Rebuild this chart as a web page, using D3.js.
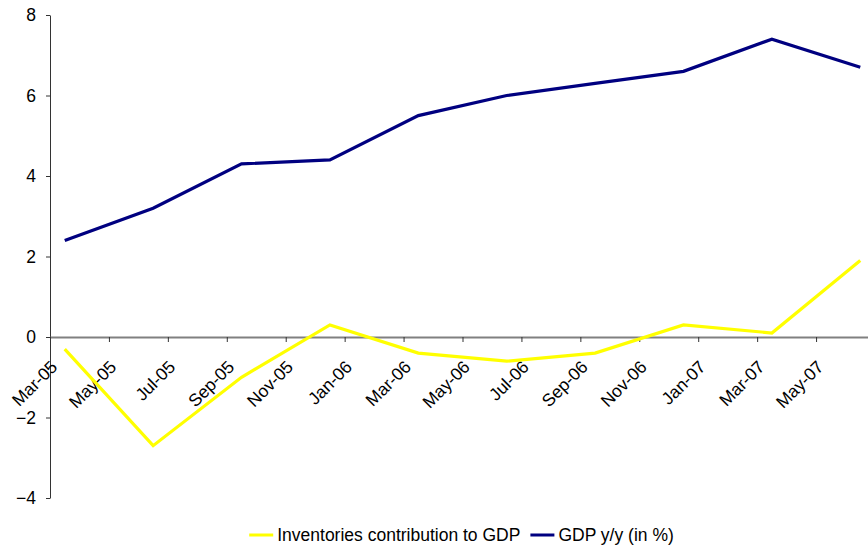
<!DOCTYPE html>
<html>
<head>
<meta charset="utf-8">
<script src="https://cdn.jsdelivr.net/npm/d3@7"></script>
<style>
  body { margin: 0; background: #fff; }
  text { font-family: "Liberation Sans", Arial, sans-serif; }
</style>
</head>
<body>
<div id="chart"></div>
<script>
// quarterly observations
const quarters = [`Mar-05`, `Jun-05`, `Sep-05`, `Dec-05`, `Mar-06`, `Jun-06`, `Sep-06`, `Dec-06`, `Mar-07`, `Jun-07`];
const inventories = [-0.3, -2.7, -1.0, 0.3, -0.4, -0.6, -0.4, 0.3, 0.1, 1.9];
const gdpYoY = [2.4, 3.2, 4.3, 4.4, 5.5, 6.0, 6.3, 6.6, 7.4, 6.7];
const xTickLabels = [`Mar-05`, `May-05`, `Jul-05`, `Sep-05`, `Nov-05`, `Jan-06`, `Mar-06`, `May-06`, `Jul-06`, `Sep-06`, `Nov-06`, `Jan-07`, `Mar-07`, `May-07`];
const yTicks = [-4, -2, 0, 2, 4, 6, 8];
const seriesNames = [`Inventories contribution to GDP`, `GDP y/y (in %)`];

const width = 868;
const height = 546;
const margin = { top: 15, right: -7, bottom: 48, left: 50 };
const fontSize = `17.5px`;

const parseMonth = d3.timeParse(`%b-%y`);
const base = parseMonth(`Mar-05`);
// months elapsed since the first month on the axis
const monthIndex = (s) => {
  const d = parseMonth(s);
  return (d.getFullYear() - base.getFullYear()) * 12 + d.getMonth() - base.getMonth();
};

const svg = d3.select(`#chart`)
  .append(`svg`)
  .attr(`width`, width)
  .attr(`height`, height);

const xScale = d3.scaleLinear()
  .domain([0, 28])
  .range([margin.left, width - margin.right]);
const yScale = d3.scaleLinear()
  .domain([-4, 8])
  .range([height - margin.bottom, margin.top]);

// y axis
const yAxis = svg.append(`g`)
  .attr(`transform`, `translate(${margin.left},0)`)
  .call(d3.axisLeft(yScale).tickValues(yTicks).tickSize(4).tickSizeOuter(0).tickPadding(10));
yAxis.select(`.domain`).attr(`stroke`, `#333`);
yAxis.selectAll(`.tick line`).attr(`stroke`, `#333`);
yAxis.selectAll(`text`)
  .style(`font-size`, fontSize)
  .attr(`fill`, `#000`);

// x axis through zero
const xAxis = svg.append(`g`)
  .attr(`transform`, `translate(0,${yScale(0)})`)
  .call(d3.axisBottom(xScale)
    .tickValues(xTickLabels.map(monthIndex))
    .tickFormat((d, i) => xTickLabels[i])
    .tickSize(5)
    .tickSizeOuter(0));
xAxis.select(`.domain`).attr(`stroke`, `#808080`).attr(`stroke-width`, 1.8);
xAxis.selectAll(`.tick line`).attr(`stroke`, `#333`);
xAxis.selectAll(`text`)
  .style(`font-size`, fontSize)
  .attr(`fill`, `#000`)
  .attr(`text-anchor`, `end`)
  .attr(`dy`, null)
  .attr(`y`, 0)
  .attr(`transform`, `translate(8,31) rotate(-45)`);

// lines
const series = [
  { name: seriesNames[0], values: inventories, color: `#FFFF00` },
  { name: seriesNames[1], values: gdpYoY, color: `#000080` },
];
const line = d3.line()
  .x((d, i) => xScale(monthIndex(quarters[i]) + 0.5))
  .y((d) => yScale(d));

svg.selectAll(`.series`)
  .data(series)
  .enter()
  .append(`path`)
  .attr(`class`, `series`)
  .attr(`d`, (d) => line(d.values))
  .attr(`fill`, `none`)
  .attr(`stroke`, (d) => d.color)
  .attr(`stroke-width`, 3.2)
  .attr(`stroke-linejoin`, `miter`);

// legend
const legend = svg.append(`g`);
let lx = 0;
series.forEach((s) => {
  legend.append(`line`)
    .attr(`x1`, lx).attr(`x2`, lx + 24)
    .attr(`y1`, 535).attr(`y2`, 535)
    .attr(`stroke`, s.color)
    .attr(`stroke-width`, 3);
  const t = legend.append(`text`)
    .attr(`x`, lx + 28)
    .attr(`y`, 541)
    .style(`font-size`, fontSize)
    .text(s.name);
  lx += 28 + t.node().getComputedTextLength() + 10;
});
legend.attr(`transform`, `translate(${461.5 - (lx - 10) / 2},0)`);
</script>
</body>
</html>
